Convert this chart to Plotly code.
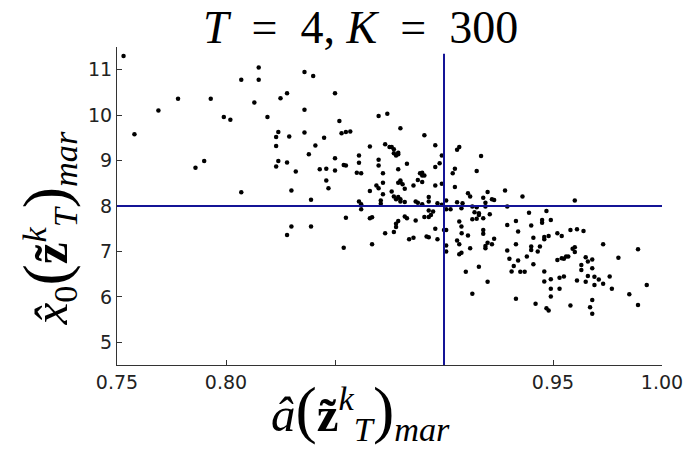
import plotly.graph_objects as go

# ---- data ----
a_hat = [
    0.753, 0.758, 0.769, 0.778, 0.793, 0.786, 0.790, 0.799, 0.802, 0.807,
    0.807, 0.813, 0.815, 0.815, 0.819, 0.825, 0.828, 0.824, 0.823, 0.823,
    0.824, 0.823, 0.828, 0.829, 0.830, 0.832, 0.828, 0.830, 0.836, 0.840,
    0.836, 0.836, 0.838, 0.839, 0.839, 0.841, 0.843, 0.845, 0.846, 0.846,
    0.847, 0.850, 0.850, 0.850, 0.852, 0.853, 0.855, 0.857, 0.854, 0.855,
    0.854, 0.855, 0.861, 0.861, 0.860, 0.862, 0.861, 0.862, 0.862, 0.866,
    0.866, 0.866, 0.867, 0.867, 0.870, 0.870, 0.870, 0.874, 0.869, 0.870,
    0.871, 0.871, 0.872, 0.872, 0.873, 0.872, 0.873, 0.875, 0.876, 0.877,
    0.877, 0.878, 0.879, 0.879, 0.880, 0.876, 0.877, 0.878, 0.877, 0.878,
    0.878, 0.879, 0.880, 0.879, 0.880, 0.881, 0.879, 0.880, 0.880, 0.883,
    0.882, 0.882, 0.882, 0.883, 0.884, 0.886, 0.887, 0.886, 0.887, 0.888,
    0.888, 0.889, 0.890, 0.891, 0.890, 0.890, 0.891, 0.890, 0.892, 0.893,
    0.893, 0.893, 0.893, 0.893, 0.894, 0.895, 0.896, 0.896, 0.896, 0.897,
    0.896, 0.897, 0.898, 0.899, 0.899, 0.899, 0.900, 0.901, 0.901, 0.901,
    0.901, 0.901, 0.903, 0.904, 0.905, 0.905, 0.906, 0.907, 0.906, 0.908,
    0.906, 0.907, 0.907, 0.908, 0.907, 0.908, 0.910, 0.911, 0.912, 0.911,
    0.912, 0.913, 0.913, 0.913, 0.915, 0.915, 0.915, 0.916, 0.917, 0.916,
    0.918, 0.918, 0.918, 0.918, 0.919, 0.919, 0.919, 0.919, 0.920, 0.920,
    0.921, 0.920, 0.922, 0.922, 0.923, 0.923, 0.928, 0.929, 0.929, 0.929,
    0.930, 0.931, 0.932, 0.933, 0.933, 0.934, 0.933, 0.934, 0.935, 0.936,
    0.937, 0.938, 0.939, 0.940, 0.940, 0.940, 0.941, 0.941, 0.942, 0.943,
    0.944, 0.945, 0.945, 0.946, 0.946, 0.947, 0.948, 0.946, 0.946, 0.947,
    0.948, 0.949, 0.949, 0.949, 0.949, 0.952, 0.954, 0.953, 0.953, 0.955,
    0.952, 0.954, 0.955, 0.956, 0.957, 0.958, 0.960, 0.959, 0.960, 0.958,
    0.961, 0.964, 0.960, 0.961, 0.963, 0.963, 0.965, 0.965, 0.966, 0.966,
    0.967, 0.968, 0.968, 0.968, 0.968, 0.969, 0.969, 0.971, 0.973, 0.973,
    0.976, 0.977, 0.980, 0.985, 0.989, 0.989, 0.993, 0.9085, 0.9081, 0.891,
    0.879, 0.914, 0.916,
]
x0_hat = [
    11.30, 9.58, 10.10, 10.36, 10.36, 8.84, 8.99, 9.96, 9.90, 10.78,
    8.30, 10.28, 11.05, 10.78, 9.96, 10.37, 10.48, 9.63, 9.52, 9.32,
    8.99, 8.87, 8.96, 9.53, 8.34, 8.76, 7.36, 7.55, 10.95, 10.86,
    10.12, 9.62, 9.14, 8.14, 7.55, 9.33, 8.81, 9.50, 8.82, 8.56,
    8.39, 10.48, 9.05, 8.78, 9.87, 9.60, 9.63, 9.64, 8.90, 8.89,
    7.08, 7.74, 9.11, 8.95, 8.73, 8.72, 8.10, 8.04, 7.93, 9.31,
    8.33, 7.73, 7.75, 7.16, 9.02, 8.89, 9.98, 10.03, 8.45, 8.39,
    8.12, 8.05, 8.72, 8.51, 9.36, 8.26, 7.40, 9.30, 9.30, 9.25,
    9.16, 9.11, 9.17, 9.14, 9.71, 8.32, 8.21, 8.15, 7.43, 7.61,
    7.54, 7.67, 8.56, 8.51, 8.53, 8.48, 8.20, 8.10, 8.15, 8.93,
    8.38, 8.09, 7.77, 7.73, 7.27, 7.30, 7.68, 8.45, 8.10, 8.07,
    8.57, 8.72, 8.67, 9.56, 8.53, 8.04, 8.67, 8.73, 7.33, 7.31,
    8.20, 8.10, 7.90, 7.76, 7.80, 7.88, 9.34, 8.86, 8.45, 8.06,
    7.50, 7.27, 8.94, 9.11, 8.49, 8.03, 7.47, 7.47, 7.13, 7.00,
    8.12, 7.93, 7.93, 8.72, 8.82, 8.42, 9.24, 9.30, 8.08, 7.95,
    7.24, 7.16, 7.66, 7.55, 6.94, 6.97, 6.55, 8.28, 8.21, 7.35,
    7.07, 6.07, 7.99, 7.71, 7.72, 7.97, 8.77, 6.66, 9.10, 7.84,
    7.73, 7.47, 7.39, 8.18, 8.07, 7.99, 7.12, 7.07, 6.33, 8.31,
    7.82, 7.19, 7.16, 8.15, 8.13, 7.28, 8.34, 7.99, 7.58, 7.02,
    6.84, 6.56, 6.68, 5.96, 7.67, 7.44, 7.16, 6.80, 6.55, 8.21,
    6.55, 6.89, 7.85, 7.57, 7.11, 7.03, 7.30, 6.72, 5.85, 7.00,
    7.11, 7.69, 7.63, 7.32, 7.27, 7.89, 7.34, 6.34, 6.56, 5.75,
    5.70, 6.01, 6.18, 6.39, 7.69, 7.40, 7.34, 6.18, 6.42, 6.45,
    6.81, 6.85, 6.84, 6.89, 6.89, 7.47, 8.12, 7.06, 7.09, 5.81,
    7.49, 7.45, 6.99, 6.36, 6.70, 6.59, 6.33, 6.87, 6.78, 6.46,
    5.77, 5.63, 5.93, 6.63, 6.82, 6.44, 6.26, 6.38, 7.16, 6.29,
    6.45, 6.18, 6.86, 6.06, 7.05, 5.82, 6.26, 8.06, 7.40, 7.76,
    8.81, 7.86, 7.80,
]

ref_a = 0.90          # vertical reference line
ref_x0 = 8.0          # horizontal reference line
ref_top = 11.35       # top of the vertical reference line

x_range = [0.75, 1.00]
y_range = [4.5, 11.5]
x_ticks = [0.75, 0.80, 0.95, 1.00]
x_ticktext = ["0.75", "0.80", "0.95", "1.00"]
x_tick_step = 0.05
y_ticks = [5, 6, 7, 8, 9, 10, 11]
y_ticktext = ["5", "6", "7", "8", "9", "10", "11"]

SP = "\u2002"
title_text = f"<i>T</i>{SP}={SP}4, <i>K</i>{SP}={SP}300"
PAREN = "font-size:64px"
xlabel_text = (f"<i>â</i><span style='{PAREN}'>(</span><b>z̃</b>"
               "<sup><i>k</i></sup><sub><i>T</i></sub>"
               f"<span style='{PAREN}'>)</span><sub><i>mar</i></sub>")
ylabel_text = (f"<i>x̂</i><sub>0</sub><span style='{PAREN}'>(</span><b>z̃</b>"
               "<sup><i>k</i></sup><sub><i>T</i></sub>"
               f"<span style='{PAREN}'>)</span><sub><i>mar</i></sub>")

LINE_BLUE = "rgb(20,20,150)"
SERIF = "Liberation Serif"

fig = go.Figure()
fig.add_trace(go.Scatter(
    x=a_hat, y=x0_hat, mode="markers",
    marker=dict(color="black", size=4.5, line=dict(width=0)),
    showlegend=False, hoverinfo="skip",
))

fig.add_shape(type="line", xref="x", yref="y", x0=ref_a, x1=ref_a,
              y0=y_range[0], y1=ref_top, line=dict(color=LINE_BLUE, width=2))
fig.add_shape(type="line", xref="x", yref="y", x0=x_range[0], x1=x_range[1],
              y0=ref_x0, y1=ref_x0, line=dict(color=LINE_BLUE, width=2))

axis_common = dict(
    showgrid=False, zeroline=False, showline=True, linecolor="#333333",
    linewidth=1, ticks="inside", ticklen=5, tickwidth=1, tickcolor="#333333",
    tickfont=dict(family="DejaVu Sans", size=19, color="#222222"),
    automargin=False,
)
fig.update_xaxes(range=x_range, tickvals=x_ticks, ticktext=x_ticktext,
                 minor=dict(ticks="inside", ticklen=5, tickwidth=1, tickcolor="#333333",
                            tick0=x_range[0], dtick=x_tick_step, showgrid=False),
                 **axis_common)
fig.update_yaxes(range=y_range, tickvals=y_ticks, ticktext=y_ticktext, **axis_common)

fig.add_annotation(text=title_text, xref="paper", yref="paper", x=0.447, y=1.062,
                   xanchor="center", yanchor="middle", showarrow=False,
                   font=dict(family=SERIF, size=46, color="black"))
fig.add_annotation(text=xlabel_text, xref="paper", yref="paper", x=0.446, y=-0.145,
                   xanchor="center", yanchor="middle", showarrow=False,
                   font=dict(family=SERIF, size=49, color="black"))
fig.add_annotation(text=ylabel_text, xref="paper", yref="paper", x=-0.128, y=0.43,
                   xanchor="center", yanchor="middle", showarrow=False, textangle=-90,
                   font=dict(family=SERIF, size=49, color="black"))

fig.update_layout(
    width=687, height=451,
    margin=dict(l=117, r=25, t=47, b=86),
    paper_bgcolor="white", plot_bgcolor="white",
)

fig.write_html("out.html")
